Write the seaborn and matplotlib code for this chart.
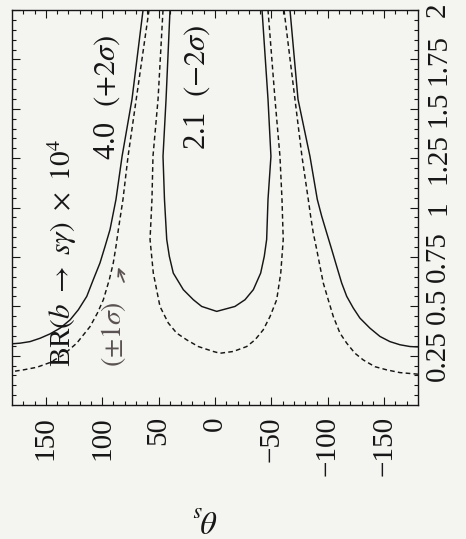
import numpy as np
import pandas as pd
import matplotlib
matplotlib.use("Agg")
import matplotlib.pyplot as plt
import seaborn as sns

# ---- data read from the (rotated) reference: theta_s [deg] vs. parameter v ----
# 4.0 (+2 sigma) contour, solid
solid_out_left_theta = [63.8, 73.6, 82.4, 87.8, 93.1, 97.5, 102.0, 107.9, 113.7, 121.2, 128.5,
                        137.4, 146.3, 155.1, 164.0, 172.9, 180.0]
solid_out_left_v = [2.0, 1.548, 1.259, 1.041, 0.888, 0.803, 0.719, 0.635, 0.550, 0.482, 0.431,
                    0.389, 0.360, 0.338, 0.321, 0.313, 0.310]
solid_out_right_theta = [-66.5, -73.6, -84.2, -90.7, -94.6, -99.0, -103.5, -107.9, -112.3, -116.8,
                         -122.6, -128.5, -137.4, -146.3, -155.1, -164.0, -172.9, -180.0]
solid_out_right_v = [2.0, 1.548, 1.259, 1.041, 0.956, 0.872, 0.787, 0.702, 0.618, 0.550,
                     0.491, 0.440, 0.389, 0.347, 0.321, 0.305, 0.296, 0.294]

# 2.1 (-2 sigma) contour, solid (U shape)
solid_in_theta = [39.9, 43.4, 46.1, 44.8, 42.8, 40.5, 37.0, 28.1, 19.2, 11.8, -1.5, -17.7,
                  -26.6, -34.0, -40.5, -43.7, -45.8, -47.0, -49.6, -47.0, -41.7]
solid_in_v = [2.0, 1.548, 1.259, 1.041, 0.838, 0.753, 0.668, 0.584, 0.533, 0.499, 0.474, 0.499,
              0.533, 0.584, 0.668, 0.753, 0.838, 1.041, 1.259, 1.548, 2.0]

# dashed (+-1 sigma) contours
dash_out_left_theta = [58.5, 77.1, 81.6, 85.7, 87.8, 90.2, 93.7, 99.0, 104.3, 110.8, 122.6,
                       134.5, 146.3, 158.0, 169.8, 180.0]
dash_out_left_v = [2.0, 1.259, 1.041, 0.888, 0.803, 0.719, 0.635, 0.533, 0.465, 0.397, 0.313,
                   0.254, 0.215, 0.191, 0.178, 0.169]
dash_out_right_theta = [-61.2, -77.1, -82.7, -84.8, -87.1, -90.2, -93.1, -96.0, -100.4, -104.9,
                        -110.8, -116.8, -124.1, -131.5, -141.8, -152.2, -164.0, -180.0]
dash_out_right_v = [2.0, 1.259, 1.041, 0.956, 0.872, 0.787, 0.702, 0.618, 0.533, 0.448,
                    0.364, 0.313, 0.262, 0.228, 0.194, 0.178, 0.164, 0.156]

dash_in_theta = [46.1, 50.5, 55.0, 55.9, 57.6, 54.7, 48.8, 41.4, 34.0, 25.1, 14.8, 1.5, -4.4,
                 -16.2, -28.1, -35.5, -42.8, -48.8, -54.7, -58.3, -60.5, -59.4, -57.6, -53.2, -47.0]
dash_in_v = [2.0, 1.548, 1.259, 1.041, 0.838, 0.668, 0.499, 0.415, 0.364, 0.330, 0.296, 0.271,
             0.262, 0.271, 0.296, 0.330, 0.381, 0.448, 0.533, 0.668, 0.838, 1.041, 1.259, 1.548, 2.0]

theta_ticks = [150, 100, 50, 0, -50, -100, -150]
theta_labels = ["150", "100", "50", "0", "\u221250", "\u2212100", "\u2212150"]
v_ticks = [0.25, 0.5, 0.75, 1.0, 1.25, 1.5, 1.75, 2.0]
v_labels = ["0.25", "0.5", "0.75", "1", "1.25", "1.5", "1.75", "2"]

curves = [
    ("solid_out_left", solid_out_left_theta, solid_out_left_v, "solid"),
    ("solid_out_right", solid_out_right_theta, solid_out_right_v, "solid"),
    ("solid_in", solid_in_theta, solid_in_v, "solid"),
    ("dash_out_left", dash_out_left_theta, dash_out_left_v, "dashed"),
    ("dash_out_right", dash_out_right_theta, dash_out_right_v, "dashed"),
    ("dash_in", dash_in_theta, dash_in_v, "dashed"),
]
df = pd.concat(
    [pd.DataFrame({"theta": t, "v": v, "curve": n, "kind": k}) for n, t, v, k in curves],
    ignore_index=True,
)

# ---- style ----
sns.set_theme(style="ticks")
plt.rcParams["font.family"] = ["Liberation Serif", "DejaVu Serif"]
plt.rcParams["mathtext.fontset"] = "stix"
plt.rcParams["axes.unicode_minus"] = True

bg = "#f4f5f1"
ink = "#161616"

fig = plt.figure(figsize=(4.66, 5.39), dpi=100, facecolor=bg)
ax = fig.add_axes([12 / 466, 1 - 405 / 539, 406 / 466, 395 / 539], facecolor=bg)

for name, _, _, kind in curves:
    sub = df[df["curve"] == name]
    ls = "-" if kind == "solid" else (0, (3.2, 2.2))
    sns.lineplot(data=sub, x="theta", y="v", sort=False, estimator=None,
                 color=ink, lw=1.05, linestyle=ls, ax=ax, legend=False)

ax.set_xlim(180, -180)
ax.set_ylim(0, 2)
ax.set_xlabel("")
ax.set_ylabel("")

ax.set_xticks(theta_ticks)
ax.set_xticklabels(theta_labels, rotation=90, fontsize=21, color=ink)
ax.set_xticks(np.arange(-170, 180, 10), minor=True)
ax.set_yticks(v_ticks)
ax.set_yticklabels(v_labels, rotation=90, fontsize=21, color=ink, va="center")
ax.set_yticks(np.arange(0.05, 2.0, 0.05), minor=True)

ax.tick_params(which="both", direction="in", top=True, bottom=True, left=True, right=True,
               labelleft=False, labelright=True, labelbottom=True, labeltop=False,
               color=ink, width=0.8)
ax.tick_params(which="major", length=6)
ax.tick_params(which="minor", length=3)
ax.tick_params(axis="x", which="major", pad=8)
ax.tick_params(axis="y", which="major", pad=5)
for s in ax.spines.values():
    s.set_visible(True)
    s.set_color(ink)
    s.set_linewidth(1.0)

# ---- annotations ----
ax.text(135.6, 0.77, r"BR$(b\ \rightarrow\ s\gamma)\ \times\ 10^4$", rotation=90,
        ha="center", va="center", fontsize=21, color=ink)
ax.text(95.7, 1.56, r"4.0 $\ (+2\sigma)$", rotation=90, ha="center", va="center",
        fontsize=22, color=ink)
ax.text(16.0, 1.61, r"2.1 $\ (-2\sigma)$", rotation=90, ha="center", va="center",
        fontsize=22, color=ink)
ax.text(90.4, 0.36, r"$(\pm 1\sigma)$", rotation=90, ha="center", va="center",
        fontsize=20, color="#5a5252")
ax.annotate("", xy=(86.9, 0.71), xytext=(79.8, 0.61),
            arrowprops=dict(arrowstyle="->", color="#5a5252", lw=1.3))

fig.text(205 / 466, 1 - 517 / 539, r"$\theta_s$", rotation=180, ha="center", va="center",
         fontsize=23, color=ink)

fig.savefig("out.png", dpi=100, facecolor=bg)
